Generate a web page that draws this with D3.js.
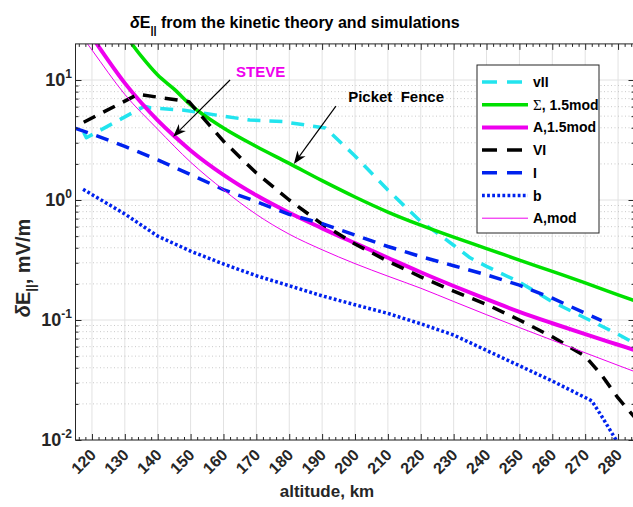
<!DOCTYPE html>
<html><head><meta charset="utf-8">
<script src="https://cdn.jsdelivr.net/npm/d3@7"></script>
<style>
body{margin:0;background:#fff;}
svg{display:block;font-family:"Liberation Sans",Arial,Helvetica,sans-serif;}
</style>
</head><body>
<svg id="c" width="633" height="507"></svg>
<script>
// ---------------- data ----------------
const xTicks = [120,130,140,150,160,170,180,190,200,210,220,230,240,250,260,270,280];
const yTicks = [0.01,0.1,1,10];
const yTickExp = ["-2","-1","0","1"];

const altVII = [117.5,118.3,136,138,148,168,178,191,200,210,220,225,230,235,240,250,260,270,280,285];
const valVII = [3.65,3.3,6.05,5.85,5.6,4.64,4.5,3.98,2.33,1.21,0.66,0.53,0.42,0.33,0.28,0.207,0.142,0.104,0.076,0.064];

const altSigma = [130,135,140,145,150,160,170,180,190,200,210,220,230,240,250,260,270,280,285];
const valSigma = [24,15.8,11.0,8.4,6.2,3.98,2.79,2.02,1.45,1.06,0.794,0.617,0.49,0.394,0.316,0.254,0.204,0.162,0.145];

const altA15 = [115,120,125,130,135,140,145,150,160,170,180,190,200,210,220,230,240,250,260,270,280,285];
const valA15 = [39,23.1,14.5,9.42,6.46,4.61,3.41,2.59,1.62,1.094,0.783,0.581,0.437,0.33,0.25,0.192,0.149,0.117,0.094,0.0762,0.0622,0.0562];

const altVI = [117.5,134,149.5,160,170,180,190,200,210,220,230,240,250,260,270,275,280,285];
const valVI = [4.45,7.6,6.6,3.09,1.68,1.0,0.63,0.43,0.309,0.229,0.174,0.135,0.1,0.0724,0.05,0.0347,0.0224,0.0155];

const altI = [115,120,130,140,150,160,170,180,190,200,210,220,230,240,250,260,270,275];
const valI = [3.96,3.55,2.8,2.16,1.63,1.22,0.97,0.76,0.635,0.51,0.41,0.338,0.283,0.238,0.195,0.152,0.114,0.099];

const altB = [117.3,120,130,140,150,160,170,180,190,200,210,220,230,240,250,260,270,272,275,280];
const valB = [1.23,1.11,0.765,0.5,0.375,0.293,0.234,0.193,0.159,0.134,0.1135,0.093,0.075,0.0558,0.0416,0.031,0.0226,0.0212,0.0158,0.0094];

const altAmod = [115,120,130,140,150,160,170,180,190,200,210,220,230,240,250,260,270,280,285];
const valAmod = [27.5,17.8,7.59,3.89,2.07,1.216,0.759,0.519,0.385,0.295,0.232,0.184,0.1426,0.1107,0.0865,0.0679,0.0533,0.0419,0.0372];

const seriesNames = ["vII","\u03A3, 1.5mod","A,1.5mod","VI","I","b","A,mod"];

// annotations in data units [altitude, value]
const annSteve = {text:"STEVE", at:[171.3,10.6], tail:[162,10], tip:[144.7,3.37]};
const annPicket = {text:"Picket\u00A0 Fence", at:[212.5,6.6], tail:[194.2,6.07], tip:[181.4,2.0]};

// ---------------- styles ----------------
const styles = [
  {alt:altVII, val:valVII, color:"#22e4ee", w:3.5, dash:"13,9", smooth:false},
  {alt:altSigma, val:valSigma, color:"#00e000", w:3.5, dash:null, smooth:true},
  {alt:altA15, val:valA15, color:"#ee00ee", w:4, dash:null, smooth:true},
  {alt:altVI, val:valVI, color:"#000000", w:3.5, dash:"13,9", smooth:false},
  {alt:altI, val:valI, color:"#0022ee", w:3.5, dash:"13,9", smooth:false},
  {alt:altB, val:valB, color:"#0022ee", w:3.5, dash:"2.8,2.3", smooth:false},
  {alt:altAmod, val:valAmod, color:"#ee00ee", w:1, dash:null, smooth:true}
];

const svg = d3.select("#c");
const x = d3.scaleLinear().domain([115,285]).range([75.5,634.5]);
const y = d3.scaleLog().domain([0.01,20]).range([440,43.9]);
const X0 = x(115), X1 = x(285), Y0 = y(0.01), Y1 = y(20);

svg.append("defs").append("clipPath").attr("id","clip")
  .append("rect").attr("x",X0).attr("y",Y1).attr("width",X1-X0).attr("height",Y0-Y1);

// grid
const grid = svg.append("g");
grid.selectAll(".vg").data(xTicks).join("line")
  .attr("x1",d=>x(d)).attr("x2",d=>x(d)).attr("y1",Y1).attr("y2",Y0)
  .attr("stroke","#e2e2e2").attr("stroke-width",1);
const minorY = [];
[-2,-1,0,1].forEach(e=>{ for(let m=2;m<=9;m++){ const v=m*Math.pow(10,e); if(v<20) minorY.push(v);} });
grid.selectAll(".hm").data(minorY).join("line")
  .attr("x1",X0).attr("x2",X1).attr("y1",d=>y(d)).attr("y2",d=>y(d))
  .attr("stroke","#bdbdbd").attr("stroke-width",0.8).attr("stroke-dasharray","1,2.5");
grid.selectAll(".hg").data(yTicks).join("line")
  .attr("x1",X0).attr("x2",X1).attr("y1",d=>y(d)).attr("y2",d=>y(d))
  .attr("stroke","#e2e2e2").attr("stroke-width",1);

// series
const lineLin = d3.line().x(d=>x(d[0])).y(d=>y(d[1]));
const lineSm = d3.line().x(d=>x(d[0])).y(d=>y(d[1])).curve(d3.curveMonotoneX);
const lines = svg.append("g").attr("clip-path","url(#clip)");
styles.forEach(s=>{
  const pts = s.alt.map((a,i)=>[a,s.val[i]]);
  const p = lines.append("path").attr("d",(s.smooth?lineSm:lineLin)(pts)).attr("fill","none")
    .attr("stroke",s.color).attr("stroke-width",s.w).attr("stroke-linejoin","round");
  if(s.dash) p.attr("stroke-dasharray",s.dash);
});

// axes
const minorX = d3.range(116,285,2).filter(v=>v%10!==0);
function styleAxis(g){ g.select(".domain").remove(); g.selectAll("text").remove(); g.selectAll("line").attr("stroke","#262626"); }
svg.append("g").attr("transform",`translate(0,${Y0})`).call(d3.axisBottom(x).tickValues(xTicks).tickSize(-6)).call(styleAxis);
svg.append("g").attr("transform",`translate(0,${Y0})`).call(d3.axisBottom(x).tickValues(minorX).tickSize(-3)).call(styleAxis);
svg.append("g").attr("transform",`translate(0,${Y1})`).call(d3.axisTop(x).tickValues(xTicks).tickSize(-6)).call(styleAxis);
svg.append("g").attr("transform",`translate(0,${Y1})`).call(d3.axisTop(x).tickValues(minorX).tickSize(-3)).call(styleAxis);
svg.append("g").attr("transform",`translate(${X0},0)`).call(d3.axisLeft(y).tickValues(yTicks).tickSize(-6)).call(styleAxis);
svg.append("g").attr("transform",`translate(${X0},0)`).call(d3.axisLeft(y).tickValues(minorY).tickSize(-3)).call(styleAxis);
svg.append("g").attr("transform",`translate(${X1},0)`).call(d3.axisRight(y).tickValues(yTicks).tickSize(-6)).call(styleAxis);
svg.append("g").attr("transform",`translate(${X1},0)`).call(d3.axisRight(y).tickValues(minorY).tickSize(-3)).call(styleAxis);
svg.append("rect").attr("x",X0).attr("y",Y1).attr("width",X1-X0).attr("height",Y0-Y1)
  .attr("fill","none").attr("stroke","#262626").attr("stroke-width",1);

// tick labels
xTicks.forEach(t=>{
  svg.append("text").attr("transform",`translate(${x(t)+5},${Y0+16}) rotate(-45)`)
    .attr("text-anchor","end").attr("font-size",16).attr("font-weight","bold").attr("fill","#262626")
    .text(t);
});
yTicks.forEach((t,i)=>{
  const tx = svg.append("text").attr("x",72).attr("y",y(t)+6).attr("text-anchor","end")
    .attr("font-weight","bold").attr("fill","#262626");
  tx.append("tspan").attr("font-size",18).text("10");
  tx.append("tspan").attr("font-size",12).attr("dy",-8).text(yTickExp[i]);
});

// axis labels
svg.append("text").attr("x",327).attr("y",497).attr("text-anchor","middle")
  .attr("font-size",17).attr("font-weight","bold").attr("fill","#262626").text("altitude, km");
const yl = svg.append("text").attr("transform","translate(30,268) rotate(-90)").attr("text-anchor","middle")
  .attr("font-size",20).attr("font-weight","bold").attr("fill","#262626");
yl.append("tspan").attr("font-style","italic").text("\u03B4");
yl.append("tspan").text("E");
yl.append("tspan").attr("font-size",13).attr("dy",5).text("||");
yl.append("tspan").attr("dy",-5).text(", mV/m");

// title
const tt = svg.append("text").attr("x",130).attr("y",28).attr("font-size",16).attr("font-weight","bold").attr("fill","#000");
tt.append("tspan").attr("font-style","italic").text("\u03B4");
tt.append("tspan").text("E");
tt.append("tspan").attr("font-size",11).attr("dy",6).text("||");
tt.append("tspan").attr("dy",-6).text(" from the kinetic theory and simulations");

// annotations
function arrow(a){
  const T=[x(a.tail[0]),y(a.tail[1])], P=[x(a.tip[0]),y(a.tip[1])];
  const dx=P[0]-T[0], dy=P[1]-T[1], L=Math.hypot(dx,dy), ux=dx/L, uy=dy/L, nx=-uy, ny=ux;
  const hl=13, hw=5, notch=9;
  svg.append("line").attr("x1",T[0]).attr("y1",T[1]).attr("x2",P[0]-notch*ux).attr("y2",P[1]-notch*uy)
    .attr("stroke","#000").attr("stroke-width",1.2);
  const pts=[[P[0],P[1]],[P[0]-hl*ux+hw*nx,P[1]-hl*uy+hw*ny],[P[0]-notch*ux,P[1]-notch*uy],[P[0]-hl*ux-hw*nx,P[1]-hl*uy-hw*ny]];
  svg.append("path").attr("d","M"+pts.map(p=>p.join(",")).join("L")+"Z").attr("fill","#000");
}
arrow(annSteve); arrow(annPicket);
svg.append("text").attr("x",x(annSteve.at[0])).attr("y",y(annSteve.at[1])).attr("text-anchor","middle")
  .attr("font-size",15).attr("font-weight","bold").attr("fill","#ee00ee").text(annSteve.text);
svg.append("text").attr("x",x(annPicket.at[0])).attr("y",y(annPicket.at[1])).attr("text-anchor","middle")
  .attr("font-size",15).attr("font-weight","bold").attr("fill","#000").text(annPicket.text);

// legend
const lg = svg.append("g");
lg.append("rect").attr("x",477).attr("y",65).attr("width",122).attr("height",168)
  .attr("fill","#fff").attr("stroke","#262626").attr("stroke-width",1);
styles.forEach((s,i)=>{
  const yy = 82 + i*22.7;
  const l = lg.append("line").attr("x1",482).attr("x2",528).attr("y1",yy).attr("y2",yy)
    .attr("stroke",s.color).attr("stroke-width",s.w);
  if(s.dash) l.attr("stroke-dasharray", s.dash==="13,9" ? "15,10" : s.dash);
  const t = lg.append("text").attr("x",533).attr("y",yy+5).attr("font-size",14).attr("font-weight","bold").attr("fill","#000");
  if(i===1){
    t.append("tspan").attr("font-family","'Liberation Serif','Times New Roman',serif").attr("font-weight","normal").attr("font-size",15).text("\u03A3");
    t.append("tspan").text(", 1.5mod");
  } else t.text(seriesNames[i]);
});
</script>
</body></html>
